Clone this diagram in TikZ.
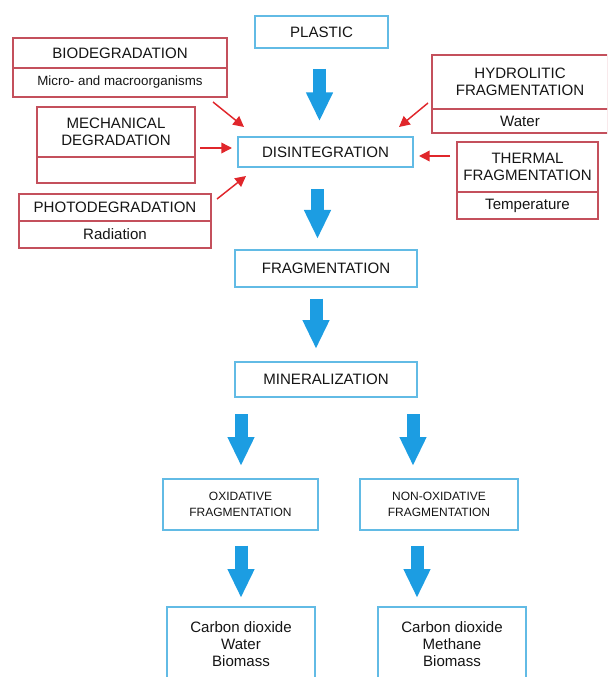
\documentclass[tikz,border=0pt]{standalone}
\usepackage{fontspec}
\setmainfont{Liberation Sans}
\usepackage{tikz}
\usetikzlibrary{positioning,calc,arrows.meta}
\definecolor{flowblue}{HTML}{1C9DE2}
\definecolor{boxblue}{HTML}{62BBE5}
\definecolor{causered}{HTML}{C4505C}
\definecolor{arrowred}{HTML}{E0262B}
\definecolor{textcol}{HTML}{151515}

\begin{document}
\begin{tikzpicture}[
    x=0.75pt,y=-0.75pt,
    stagebox/.style={draw=boxblue,line width=1.5pt,fill=white,align=center,inner sep=0pt,font=\fontsize{11.3}{12.8}\selectfont,text=textcol},
    smallstage/.style={stagebox,font=\fontsize{9}{12}\selectfont},
    causecell/.style={draw=causered,line width=0.9pt,align=center,inner sep=0pt,outer sep=0pt,font=\fontsize{11.3}{12.8}\selectfont,text=textcol},
    flowarrow/.style={draw=flowblue,line width=9.75pt,-{Triangle[length=21.75pt,width=18.75pt]}},
    causearrow/.style={draw=arrowred,line width=1.1pt,-{Triangle[length=8pt,width=8pt]}}
]
\useasboundingbox (0,0) rectangle (607,677);
\clip (0,0) rectangle (607,677);
% main chain
\node[stagebox,minimum width=133*0.75pt,minimum height=32*0.75pt] (plastic) at (321.5,32) {PLASTIC};
\node[stagebox,minimum width=175*0.75pt,minimum height=30*0.75pt] (disint) at (325.5,152) {DISINTEGRATION};
\node[stagebox,minimum width=182*0.75pt,minimum height=37*0.75pt] (frag) at (326,268.5) {FRAGMENTATION};
\node[stagebox,minimum width=182*0.75pt,minimum height=35*0.75pt] (miner) at (326,379.5) {MINERALIZATION};
\node[smallstage,minimum width=155*0.75pt,minimum height=51*0.75pt] (oxid) at (240.5,504.5) {OXIDATIVE\\FRAGMENTATION};
\node[smallstage,minimum width=158*0.75pt,minimum height=51*0.75pt] (nonoxid) at (439,504.5) {NON-OXIDATIVE\\FRAGMENTATION};
\node[stagebox,minimum width=148*0.75pt,minimum height=75*0.75pt] (prodox) at (241,644.5) {Carbon dioxide\\Water\\Biomass};
\node[stagebox,minimum width=148*0.75pt,minimum height=75*0.75pt] (prodnonox) at (452,644.5) {Carbon dioxide\\Methane\\Biomass};
% factors, left
\node[causecell,minimum width=214*0.75pt,minimum height=30*0.75pt] (bio) at (120,53) {BIODEGRADATION};
\node[causecell,minimum width=214*0.75pt,minimum height=29*0.75pt,below=0pt of bio,font=\fontsize{10}{12}\selectfont] (biosub) {Micro- and macroorganisms};
\node[causecell,minimum width=158*0.75pt,minimum height=50*0.75pt] (mech) at (116,132) {MECHANICAL\\DEGRADATION};
\node[causecell,minimum width=158*0.75pt,minimum height=26*0.75pt,below=0pt of mech] (mechsub) {};
\node[causecell,minimum width=192*0.75pt,minimum height=27*0.75pt] (photo) at (115,207.5) {PHOTODEGRADATION};
\node[causecell,minimum width=192*0.75pt,minimum height=27*0.75pt,below=0pt of photo] (photosub) {Radiation};
% factors, right
\node[causecell,minimum width=176*0.75pt,minimum height=54*0.75pt] (hydro) at (520,82) {HYDROLITIC\\FRAGMENTATION};
\node[causecell,minimum width=176*0.75pt,minimum height=24*0.75pt,below=0pt of hydro] (hydrosub) {Water};
\node[causecell,minimum width=141*0.75pt,minimum height=50*0.75pt] (therm) at (527.5,167) {THERMAL\\FRAGMENTATION};
\node[causecell,minimum width=141*0.75pt,minimum height=27*0.75pt,below=0pt of therm] (thermsub) {Temperature};
% blue flow arrows
\coordinate (lane1) at ($(plastic.south)+(-2,0)$);
\coordinate (lane2) at ($(disint.south)+(-8,0)$);
\coordinate (lane3) at ($(frag.south)+(-10,0)$);
\coordinate (leftlane) at ($(oxid.north)+(0.5,0)$);
\coordinate (rightlane) at ($(nonoxid.north)+(-26,0)$);
\coordinate (rightlane2) at ($(nonoxid.north)+(-22,0)$);
\draw[flowarrow,shorten <=15pt,shorten >=11pt] (lane1) -- (lane1 |- disint.north);
\draw[flowarrow,shorten <=16pt,shorten >=7.5pt] (lane2) -- (lane2 |- frag.north);
\draw[flowarrow,shorten <=8pt,shorten >=9pt] (lane3) -- (lane3 |- miner.north);
\draw[flowarrow,shorten <=12pt,shorten >=9pt] (leftlane |- miner.south) -- (leftlane);
\draw[flowarrow,shorten <=12pt,shorten >=9pt] (rightlane |- miner.south) -- (rightlane);
\draw[flowarrow,shorten <=11pt,shorten >=6pt] (leftlane |- oxid.south) -- (leftlane |- prodox.north);
\draw[flowarrow,shorten <=11pt,shorten >=6pt] (rightlane2 |- nonoxid.south) -- (rightlane2 |- prodnonox.north);
% red factor arrows
\draw[causearrow] ($(biosub.south east)+(-14,5)$) -- ($(disint.north west)+(7,-9)$);
\draw[causearrow] ($(mechsub.north east)+(5,-9)$) -- ($(disint.west)+(-5,-4)$);
\draw[causearrow] ($(photo.north east)+(6,5)$) -- ($(disint.south west)+(9,8)$);
\draw[causearrow] ($(hydro.south west)+(-4,-6)$) -- ($(disint.north east)+(-15,-9)$);
\draw[causearrow] ($(therm.north west)+(-7,14)$) -- ($(disint.east)+(5,4)$);
\end{tikzpicture}
\end{document}
